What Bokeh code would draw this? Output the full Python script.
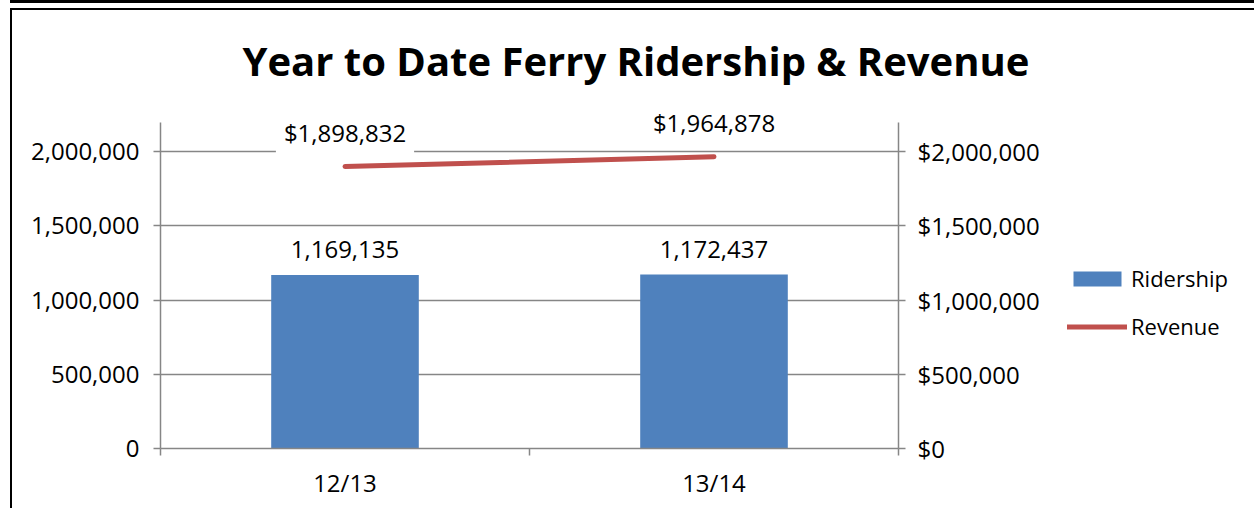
from bokeh.plotting import figure
from bokeh.layouts import row
from bokeh.models import (ColumnDataSource, Range1d, LinearAxis, FixedTicker,
                          NumeralTickFormatter, Legend, LegendItem, Label, LabelSet, Grid)
from bokeh.core.properties import value
from bokeh.embed import file_html
from bokeh.resources import INLINE

# ---- data ----
categories = ["12/13", "13/14"]
ridership = [1169135, 1172437]
revenue = [1898832, 1964878]
y_ticks = [0, 500000, 1000000, 1500000, 2000000]
series_names = ["Ridership", "Revenue"]

FONT = "Open Sans"
GRAY = "#868686"
BLUE = "#4F81BD"
RED = "#C0504D"
TICK_FS = "24px"

# layout constants (pixels)
PX_PER_M = 148.5
AXIS_TOP_VAL = 2195000
FRAME_H = 356
Y_END = FRAME_H / PX_PER_M * 1e6
TOTAL_W, TOTAL_H = 1242, 498
MAIN_W = 1042

n = len(categories)
xpos = [i + 0.5 for i in range(n)]
src = ColumnDataSource(dict(
    x=xpos, cat=categories, rid=ridership, rev=revenue,
    rid_lbl=[f"{v:,}" for v in ridership],
))

p = figure(width=MAIN_W, height=TOTAL_H, output_backend="svg", toolbar_location=None,
           x_range=Range1d(0, n), y_range=Range1d(0, Y_END),
           min_border_left=148, min_border_right=MAIN_W - 148 - 738,
           min_border_top=TOTAL_H - 60 - FRAME_H,
           min_border_bottom=60, x_axis_type=None, y_axis_type=None)
p.extra_y_ranges = {"rev": Range1d(0, Y_END)}
p.outline_line_color = None
p.background_fill_color = "white"
p.border_fill_color = "white"

# title
p.title.text = "Year to Date Ferry Ridership & Revenue"
p.title.align = "left"
p.title.text_font = FONT
p.title.text_font_style = "bold"
p.title.text_font_size = "40px"
p.title.text_color = "black"
p.title.offset = 82
p.title.standoff = 10


def style_axis(ax, standoff):
    ax.axis_line_color = GRAY
    ax.axis_line_width = 1.5
    ax.major_tick_line_color = GRAY
    ax.major_tick_line_width = 1.5
    ax.major_tick_out = 7
    ax.major_tick_in = 0
    ax.minor_tick_line_color = None
    ax.major_label_text_font = FONT
    ax.major_label_text_font_size = TICK_FS
    ax.major_label_text_color = "black"
    ax.major_label_standoff = standoff


yt = FixedTicker(ticks=y_ticks)
la = LinearAxis(ticker=yt, formatter=NumeralTickFormatter(format="0,0"),
                bounds=(0, AXIS_TOP_VAL))
style_axis(la, 14)
p.add_layout(la, "left")

ra = LinearAxis(y_range_name="rev", ticker=FixedTicker(ticks=y_ticks),
                formatter=NumeralTickFormatter(format="$0,0"), bounds=(0, AXIS_TOP_VAL))
style_axis(ra, 12)
p.add_layout(ra, "right")

xa = LinearAxis(ticker=FixedTicker(ticks=xpos, minor_ticks=list(range(n + 1))),
                major_label_overrides={x: c for x, c in zip(xpos, categories)})
style_axis(xa, 10)
xa.major_tick_line_color = None
xa.minor_tick_line_color = GRAY
xa.minor_tick_line_width = 1.5
xa.minor_tick_out = 7
xa.minor_tick_in = 0
p.add_layout(xa, "below")

p.add_layout(Grid(dimension=1, ticker=yt, grid_line_color=GRAY, grid_line_width=1.5))

bars = p.vbar(x="x", top="rid", width=0.4, source=src, fill_color=BLUE, line_color=None)
line = p.line(x="x", y="rev", y_range_name="rev", source=src, line_color=RED,
              line_width=5, line_cap="round")

p.add_layout(LabelSet(x="x", y="rid", text="rid_lbl", source=src, y_offset=25,
                      text_align="center", text_baseline="middle",
                      text_font=value(FONT), text_font_size=value(TICK_FS),
                      text_color="black"))

for x, v in zip(xpos, revenue):
    p.add_layout(Label(x=x, y=v, y_range_name="rev", text=f"${v:,}", y_offset=34,
                       text_align="center", text_baseline="middle",
                       text_font=FONT, text_font_size=TICK_FS, text_color="black",
                       background_fill_color="white", padding=8))

# ---- legend panel (separate canvas to the right) ----
# its ranges keep the proxy glyphs out of view; only the legend is shown
q = figure(width=TOTAL_W - MAIN_W, height=TOTAL_H, output_backend="svg",
           toolbar_location=None, x_range=Range1d(-3, -2), y_range=Range1d(-3, -2),
           min_border=0, x_axis_type=None, y_axis_type=None)
q.outline_line_color = None
q.background_fill_color = "white"
q.border_fill_color = "white"
lb = q.vbar(x="x", top="rid", width=0.4, source=src, fill_color=BLUE, line_color=None)
ll = q.line(x="x", y="rev", source=src, line_color=RED, line_width=5, line_cap="round")

legend = Legend(items=[LegendItem(label=series_names[0], renderers=[lb]),
                       LegendItem(label=series_names[1], renderers=[ll])],
                location=(13, 107), orientation="vertical",
                border_line_color=None, background_fill_alpha=0,
                padding=0, margin=0, spacing=18,
                glyph_width=60, glyph_height=19, label_height=26,
                label_standoff=4, label_text_font=FONT,
                label_text_font_size="22px", label_text_color="black")
q.add_layout(legend)

layout = row(p, q)
layout.styles = {"margin-left": "10px", "margin-top": "8px",
                 "border-left": "2px solid #000", "border-top": "2px solid #000",
                 "box-shadow": "0 -5px 0 0 #fff, 0 -8px 0 0 #000"}

open("out.html", "w").write(file_html(layout, INLINE))
